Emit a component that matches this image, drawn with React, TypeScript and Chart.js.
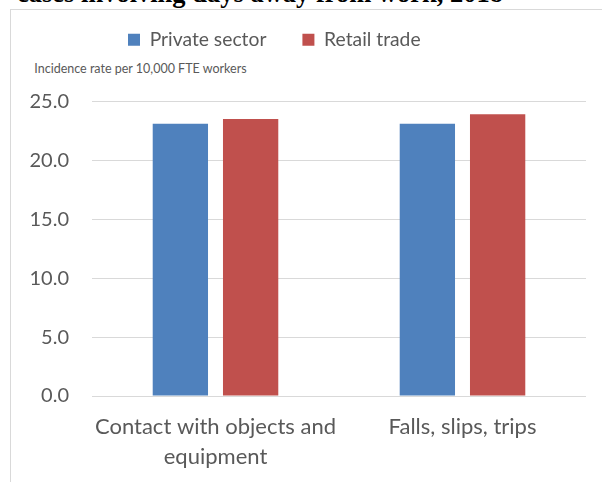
import React, { useEffect, useRef } from "react";
import { Chart, registerables } from "chart.js";

Chart.register(...registerables);

const categories: (string | string[])[] = [["Contact with objects and", "equipment"], "Falls, slips, trips"];
const privateSector = [23.1, 23.1];
const retailTrade = [23.5, 23.9];
const seriesNames = ["Private sector", "Retail trade"];
const yTicks = [0, 5, 10, 15, 20, 25];
const axisNote = "Incidence rate per 10,000 FTE workers";
const docTitle = "cases involving days away from work, 2018";

const TEXT = "#595959";
const GRID = "#d9d9d9";
const FONT = "Lato, 'Open Sans', sans-serif";

const legendSpacer = {
  id: "legendSpacer",
  beforeInit(chart: any) {
    const legend = chart.legend;
    if (!legend) return;
    const origFit = legend.fit;
    legend.fit = function () {
      origFit.call(this);
      this.height += 42;
    };
  },
};

export default function App() {
  const ref = useRef<HTMLCanvasElement | null>(null);

  useEffect(() => {
    if (!ref.current) return;
    const chart = new Chart(ref.current, {
      type: "bar",
      data: {
        labels: categories,
        datasets: [
          { label: seriesNames[0], data: privateSector, backgroundColor: "#4f81bd", borderWidth: 0 },
          { label: seriesNames[1], data: retailTrade, backgroundColor: "#c0504d", borderWidth: 0 },
        ],
      },
      plugins: [legendSpacer],
      options: {
        responsive: false,
        animation: false,
        devicePixelRatio: 1,
        layout: { padding: { left: 10, right: 16, top: 14, bottom: 0 } },
        datasets: { bar: { categoryPercentage: 0.569, barPercentage: 0.787 } },
        plugins: {
          tooltip: { enabled: false },
          title: { display: false },
          legend: {
            position: "top",
            align: "start",
            fullSize: false,
            labels: {
              boxWidth: 12,
              boxHeight: 12,
              padding: 36,
              color: TEXT,
              font: { family: FONT, size: 19.3 },
            },
          },
        },
        scales: {
          x: {
            grid: { display: false },
            border: { display: false },
            ticks: {
              color: TEXT,
              font: { family: FONT, size: 22, lineHeight: 1.364 },
              padding: 7.5,
              maxRotation: 0,
              autoSkip: false,
            },
            afterFit: (s: any) => {
              s.height = 86;
            },
          },
          y: {
            min: 0,
            max: 25,
            grid: { color: GRID, lineWidth: 1, drawTicks: false },
            border: { display: false },
            afterBuildTicks: (s: any) => {
              s.ticks = yTicks.map((v) => ({ value: v }));
            },
            ticks: {
              color: TEXT,
              font: { family: FONT, size: 20 },
              padding: 23,
              callback: (v: any) => Number(v).toFixed(1),
            },
            afterFit: (s: any) => {
              s.width = 82;
            },
          },
        },
      },
    });
    return () => chart.destroy();
  }, []);

  return (
    <div
      style={{
        position: "fixed",
        left: 0,
        top: 0,
        width: 602,
        height: 482,
        overflow: "hidden",
        background: "#ffffff",
      }}
    >
      <div
        style={{
          position: "absolute",
          left: 17,
          top: -19.7,
          fontFamily: "'Liberation Serif', 'Times New Roman', serif",
          fontWeight: "bold",
          fontSize: 26.5,
          lineHeight: 1,
          whiteSpace: "nowrap",
          color: "#000",
        }}
      >
        {docTitle}
      </div>
      <div
        style={{
          position: "absolute",
          left: 10,
          top: 9,
          width: 700,
          height: 600,
          borderLeft: `1px solid ${GRID}`,
          borderTop: `1px solid ${GRID}`,
        }}
      />
      <div
        style={{
          position: "absolute",
          left: 34.3,
          top: 62.9,
          fontFamily: FONT,
          fontSize: 12.5,
          lineHeight: 1,
          whiteSpace: "nowrap",
          color: TEXT,
        }}
      >
        {axisNote}
      </div>
      <canvas
        ref={ref}
        width={602}
        height={502}
        style={{ position: "absolute", left: 0, top: -20, width: 602, height: 502 }}
      />
    </div>
  );
}
